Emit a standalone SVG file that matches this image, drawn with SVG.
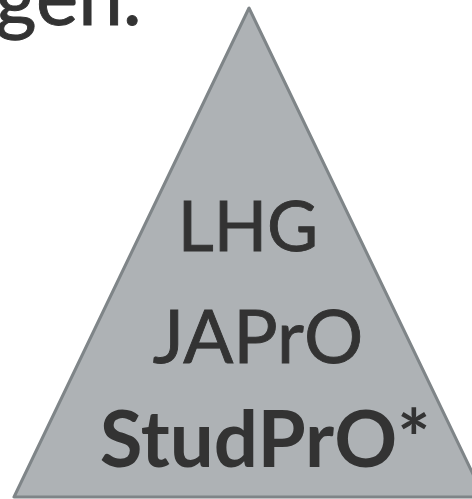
<svg xmlns="http://www.w3.org/2000/svg" width="472" height="499" viewBox="0 0 472 499">
<style>
.t{font-family:Lato,"Liberation Sans",sans-serif;fill:#333333;}
.r{stroke:#333333;stroke-width:0.9;}
</style>
<rect width="472" height="499" fill="#ffffff"/>
<text class="t r" x="-5" y="25" font-size="80">gen.</text>
<g id="pyramid">
<polygon points="249,8 14,497 484,497" fill="#aeb2b5" stroke="#7f8588" stroke-width="3" stroke-linejoin="round"/>
<text class="t r" x="248" y="251" font-size="70" text-anchor="middle">LHG</text>
<text class="t r" x="258" y="363" font-size="74" text-anchor="middle">JAPrO</text>
<text class="t" x="265" y="467" font-size="78" font-weight="bold" text-anchor="middle">StudPrO*</text>
</g>
</svg>
